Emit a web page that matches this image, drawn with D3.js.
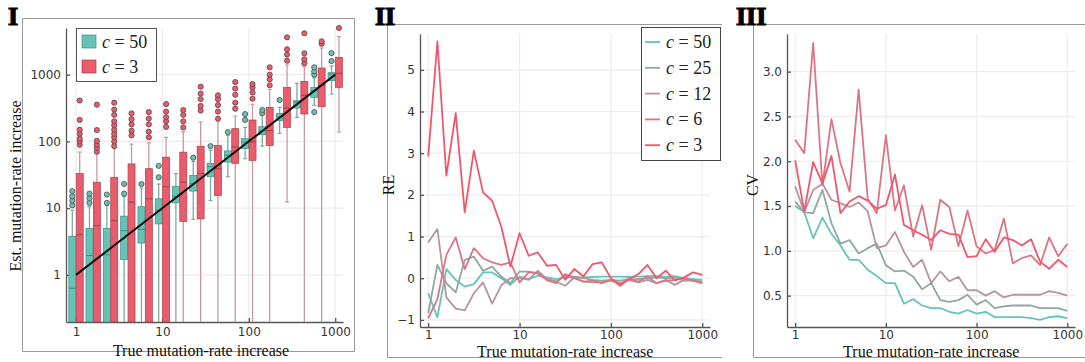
<!DOCTYPE html>
<html>
<head>
<meta charset="utf-8">
<script src="https://cdn.jsdelivr.net/npm/d3@7"></script>
<style>
    body { margin: 0; background: #fff; }
    .tick text { font-family: "DejaVu Sans", sans-serif; font-size: 12px; fill: #333; }
    .lbl { font-family: "Liberation Serif", serif; font-size: 16px; fill: #111; }
    .leg { font-family: "Liberation Serif", serif; font-size: 18px; fill: #222; }
    .num { font-family: "Liberation Serif", serif; font-size: 26px; font-weight: bold; fill: #000; stroke: #000; stroke-width: 1.2px; }
</style>
</head>
<body>
<svg id="fig" width="1085" height="362"></svg>
<script>
// shared tick labels
const logTicks = [1, 10, 100, 1000];
const reTicks = [-1, 0, 1, 2, 3, 4, 5];
const cvTicks = [0.5, 1.0, 1.5, 2.0, 2.5, 3.0];

// Panel I: box groups (true rate), [lo, q1, median, q3, hi]; 0 = below the axis
const boxRates = [1, 1.58, 2.51, 3.98, 6.31, 10, 15.8, 25.1, 39.8, 63.1, 100, 158, 251, 398, 631, 1000];
const tealBoxes = [
    [0, 0, 0.63, 3.8, 9.3], [0, 0, 1.95, 5.0, 10.5], [0, 0, 2.0, 5.0, 11], [0, 1.7, 4.6, 7.6, 15],
    [0, 3.0, 4.8, 10.5, 20], [0, 5.8, 9.3, 13.8, 23], [0, 12, 15, 21, 33], [6.8, 18, 23.5, 31, 50],
    [13, 29.5, 42, 47, 74], [29.5, 49, 62, 72, 123], [55, 78, 98, 110, 162], [85, 126, 145, 166, 245],
    [132, 204, 234, 263, 324], [229, 316, 389, 407, 740], [347, 457, 575, 646, 900], [513, 813, 1023, 1070, 1350]
];
const tealOutliers = [
    [11, 13, 15, 18], [12, 14, 16.5], [12, 16], [16.5, 23], [23], [29, 43], [], [57],
    [85], [138], [210, 257], [265, 295], [417], [], [275, 1000, 1120, 1290], [1600, 2100]
];
const redBoxes = [
    [0, 0, 4, 33, 69], [0, 0, 5.5, 24.5, 66], [0, 0, 6.5, 29, 80], [0, 0, 12.3, 46, 91],
    [0, 0, 13.8, 39, 95], [0, 0, 21, 58, 115], [0, 6.3, 24.5, 69, 140], [0, 6.9, 33, 85, 195],
    [0, 15.5, 39, 87, 204], [0, 47, 83, 155, 240], [0, 52, 98, 209, 360], [0, 87, 145, 324, 600],
    [12.3, 162, 316, 646, 1400], [0, 257, 490, 794, 1300], [0, 331, 692, 1259, 2500], [138, 646, 1047, 1820, 3720]
];
const redOutliers = [
    [89, 100, 110, 130, 150, 210, 410], [70, 80, 90, 102, 148, 355], [85, 100, 115, 130, 150, 175, 200, 250, 300, 380],
    [123, 145, 180, 215, 263], [115, 140, 180, 220, 275], [165, 200, 230, 280, 363], [162, 200, 250, 295],
    [290, 340, 430, 520, 660], [219, 280, 350, 430, 490], [309, 380, 500, 620, 776], [437, 540, 640, 724],
    [692, 850, 1000, 1290], [1620, 2000, 2400, 3630], [1480, 1700, 2090, 4170], [2900, 3160], [5000]
];

// Panels II and III: true rate grid and per-c series
const trueRates = [1, 1.26, 1.58, 2, 2.51, 3.16, 3.98, 5.01, 6.31, 7.94, 10, 12.6, 15.8, 20, 25.1, 31.6,
    39.8, 50.1, 63.1, 79.4, 100, 126, 158, 200, 251, 316, 398, 501, 631, 794, 1000];
const cLabels = ['50', '25', '12', '6', '3'];
const re50 = [-0.36, -0.94, 0.22, -0.04, -0.2, -0.14, 0.14, 0.14, 0.0, -0.16, 0.04, -0.02, 0.06, 0.02, -0.02, 0.02,
    0.02, 0.02, 0.03, 0.04, 0.04, 0.04, 0.03, 0.04, 0.05, 0.05, 0.04, 0.05, 0.0, -0.02, -0.04];
const re25 = [-0.84, 0.32, -0.12, -0.34, 0.44, 0.52, 0.18, 0.28, 0.04, -0.12, 0.16, 0.16, 0.12, 0.0, -0.08, 0.06,
    0.04, 0.0, -0.04, -0.06, -0.04, -0.06, -0.02, -0.02, 0.0, 0.02, 0.0, 0.02, -0.06, -0.04, -0.08];
const re12 = [0.86, 1.18, -0.46, -0.73, -0.77, -0.36, -0.1, -0.61, -0.17, 0.0, 0.0, -0.04, 0.18, -0.02, -0.08, -0.18,
    0.02, -0.08, -0.1, -0.1, -0.06, -0.12, -0.04, -0.1, -0.04, -0.12, -0.04, -0.16, -0.04, -0.06, -0.12];
const re6 = [-0.96, -0.5, 0.56, 0.98, 0.22, 0.72, 0.48, 0.38, 0.32, 0.38, -0.1, 0.14, 0.12, -0.05, -0.12, 0.1,
    0.0, -0.08, -0.06, -0.12, -0.04, -0.14, -0.02, -0.08, 0.04, -0.12, -0.06, -0.04, 0.0, -0.06, -0.12];
const re3 = [2.92, 5.68, 2.46, 3.96, 1.58, 3.06, 2.06, 1.86, 1.24, 0.28, 1.08, 0.54, 0.62, 0.3, 0.32, -0.04,
    0.22, 0.04, 0.34, 0.38, 0.0, -0.18, -0.02, 0.1, 0.32, 0.0, 0.18, -0.05, 0.02, 0.14, 0.08];
const cv50 = [1.5, 1.43, 1.14, 1.37, 1.19, 1.06, 0.9, 0.9, 0.79, 0.72, 0.64, 0.64, 0.41, 0.46, 0.39, 0.36,
    0.36, 0.32, 0.3, 0.34, 0.3, 0.32, 0.26, 0.26, 0.26, 0.26, 0.25, 0.23, 0.26, 0.27, 0.25];
const cv25 = [1.55, 1.43, 1.42, 1.68, 1.31, 1.08, 1.12, 0.97, 1.03, 1.08, 0.84, 0.77, 0.78, 0.71, 0.57, 0.64,
    0.45, 0.43, 0.45, 0.51, 0.4, 0.45, 0.36, 0.38, 0.39, 0.39, 0.39, 0.36, 0.36, 0.36, 0.33];
const cv12 = [1.72, 1.43, 1.68, 1.75, 1.57, 1.53, 1.49, 1.54, 1.44, 1.03, 1.06, 1.21, 0.99, 0.82, 0.9, 0.64,
    0.77, 0.66, 0.71, 0.56, 0.56, 0.5, 0.55, 0.48, 0.51, 0.51, 0.51, 0.51, 0.55, 0.53, 0.5];
const cv6 = [2.24, 2.09, 3.32, 1.73, 2.47, 1.98, 1.66, 2.8, 1.58, 1.42, 2.29, 1.45, 1.73, 1.16, 1.51, 1.01,
    1.57, 1.49, 1.05, 1.45, 1.05, 0.97, 1.01, 1.36, 0.86, 0.92, 0.95, 0.84, 1.15, 0.94, 1.08];
const cv3 = [2.01, 1.44, 1.99, 1.75, 2.06, 1.42, 1.55, 1.61, 1.56, 1.47, 1.51, 1.85, 1.29, 1.23, 1.18, 1.12,
    1.23, 1.19, 1.18, 0.93, 0.94, 1.13, 0.99, 1.15, 1.12, 1.06, 1.13, 0.88, 0.8, 0.9, 0.82];

const cColors = ['#66c4b8', '#8fa8a5', '#b8949c', '#dc7484', '#f0566c'];

const svg = d3.select('#fig');

// frames around the panels
function frame(x0, y0, x1, y1, right) {
    const p = d3.path();
    p.moveTo(x1, y0); p.lineTo(x0, y0); p.lineTo(x0, y1); p.lineTo(x1, y1);
    if (right) p.lineTo(x1, y0);
    svg.append('path').attr('d', p.toString()).attr('fill', 'none').attr('stroke', '#999').attr('stroke-width', 1);
}
frame(22.5, 18.5, 354.5, 351.5, true);
frame(387.5, 24.5, 722, 357.5, false);
frame(753.5, 24.5, 1085, 357.5, false);

// grid + axes for one panel
function axes(x, y, yTicks, yFmt, xPad) {
    const [xa, xb] = x.range();
    const [yb, ya] = y.range();
    const g = svg.append('g');
    g.selectAll('.gx').data(logTicks).enter().append('line')
        .attr('x1', d => x(d)).attr('x2', d => x(d)).attr('y1', ya).attr('y2', yb)
        .attr('stroke', '#ececec').attr('stroke-width', 1.2);
    g.selectAll('.gy').data(yTicks).enter().append('line')
        .attr('x1', xa).attr('x2', xb).attr('y1', d => y(d)).attr('y2', d => y(d))
        .attr('stroke', '#ececec').attr('stroke-width', 1.2);
    g.append('g').attr('transform', `translate(0,${yb})`)
        .call(d3.axisBottom(x).tickValues(logTicks).tickFormat(d3.format('d')).tickSize(-4).tickSizeOuter(0).tickPadding(xPad));
    g.append('g').attr('transform', `translate(${xa},0)`)
        .call(d3.axisLeft(y).tickValues(yTicks).tickFormat(yFmt).tickSize(-4).tickSizeOuter(0).tickPadding(5));
    g.selectAll('.domain, .tick line').attr('stroke', '#555').attr('stroke-width', 1.3);
    return g;
}

function legendLabel(sel, c) {
    sel.append('tspan').attr('font-style', 'italic').text('c');
    sel.append('tspan').text(' = ' + c);
}

// Panel I: boxplots
(function () {
    const x = d3.scaleLog().domain([0.766, 1230]).range([66, 343]);
    const y = d3.scaleLog().domain([0.197, 5000]).range([322, 28]).clamp(true);
    axes(x, y, logTicks, d3.format('d'), 5);

    const series = [
        { boxes: tealBoxes, outs: tealOutliers, off: -3.7, fill: '#66c2b5', edge: '#3f8f85', wh: '#7ea8a2' },
        { boxes: redBoxes, outs: redOutliers, off: 3.7, fill: '#ea5b6b', edge: '#a8404c', wh: '#c89aa0' }
    ];
    const bw = 7;
    series.forEach(s => {
        const g = svg.append('g');
        s.boxes.forEach((b, i) => {
            const cx = x(boxRates[i]) + s.off;
            const [lo, q1, med, q3, hi] = b;
            g.append('line').attr('x1', cx).attr('x2', cx).attr('y1', y(hi)).attr('y2', y(lo))
                .attr('stroke', s.wh).attr('stroke-width', 1.3);
            [hi, lo].filter(v => v > 0.2).forEach(v => {
                g.append('line').attr('x1', cx - 2).attr('x2', cx + 2).attr('y1', y(v)).attr('y2', y(v))
                    .attr('stroke', s.wh).attr('stroke-width', 1.2);
            });
            g.append('rect').attr('x', cx - bw / 2).attr('y', y(q3)).attr('width', bw)
                .attr('height', y(q1) - y(q3)).attr('fill', s.fill).attr('stroke', s.edge).attr('stroke-width', 0.7);
            g.append('line').attr('x1', cx - bw / 2).attr('x2', cx + bw / 2).attr('y1', y(med)).attr('y2', y(med))
                .attr('stroke', s.edge).attr('stroke-width', 1);
            g.selectAll(null).data(s.outs[i]).enter().append('circle')
                .attr('cx', cx).attr('cy', d => y(d)).attr('r', 2.6)
                .attr('fill', s.fill).attr('stroke', '#5a4548').attr('stroke-width', 0.8);
        });
    });

    // identity line
    svg.append('line').attr('x1', x(1)).attr('y1', y(1)).attr('x2', x(1000)).attr('y2', y(1000))
        .attr('stroke', '#111').attr('stroke-width', 2);

    // legend
    const lg = svg.append('g');
    lg.append('rect').attr('x', 76.5).attr('y', 28.5).attr('width', 80).attr('height', 53)
        .attr('fill', '#fff').attr('stroke', '#555');
    [['50', series[0]], ['3', series[1]]].forEach(([c, s], i) => {
        lg.append('rect').attr('x', 82).attr('y', 35 + i * 25).attr('width', 14).attr('height', 13)
            .attr('fill', s.fill).attr('stroke', s.edge).attr('stroke-width', 0.7);
        lg.append('text').attr('class', 'leg').attr('x', 102).attr('y', 47.5 + i * 25).call(legendLabel, c);
    });

    svg.append('text').attr('class', 'lbl').attr('text-anchor', 'middle')
        .attr('transform', 'translate(15,186) rotate(-90)').attr('dy', '0.35em').text('Est. mutation-rate increase');
    svg.append('text').attr('class', 'lbl').attr('text-anchor', 'middle').attr('x', 201).attr('y', 355.5)
        .text('True mutation-rate increase');
    svg.append('text').attr('class', 'num').attr('x', 8).attr('y', 25).text('I');
})();

// line panels II and III
function linePanel(x0, x1, yDomain, yTicks, yFmt, series, yTitle, titleX, numX, numText, legend) {
    const x = d3.scaleLog().domain([0.813, 1216]).range([x0, x1]);
    const y = d3.scaleLinear().domain(yDomain).range([327, 34]);
    axes(x, y, yTicks, yFmt, 3);

    const line = d3.line().x((d, i) => x(trueRates[i])).y(d => y(d));
    series.forEach((s, i) => {
        svg.append('path').datum(s).attr('d', line).attr('fill', 'none')
            .attr('stroke', cColors[i]).attr('stroke-width', 1.8).attr('stroke-linejoin', 'round');
    });

    if (legend) {
        const lg = svg.append('g');
        lg.append('rect').attr('x', 641.5).attr('y', 27.5).attr('width', 79).attr('height', 133)
            .attr('fill', '#fff').attr('stroke', '#444');
        cLabels.forEach((c, i) => {
            const cy = 42 + i * 25.8;
            lg.append('line').attr('x1', 645).attr('x2', 660).attr('y1', cy).attr('y2', cy)
                .attr('stroke', cColors[i]).attr('stroke-width', 1.8);
            lg.append('text').attr('class', 'leg').attr('x', 666).attr('y', cy + 6).call(legendLabel, c);
        });
    }

    svg.append('text').attr('class', 'lbl').attr('text-anchor', 'middle')
        .attr('transform', `translate(${titleX},185) rotate(-90)`).attr('dy', '0.35em').text(yTitle);
    svg.append('text').attr('class', 'lbl').attr('text-anchor', 'middle').attr('x', (x(1) + x(1000)) / 2)
        .attr('y', 356.5).text('True mutation-rate increase');
    svg.append('text').attr('class', 'num').attr('x', numX).attr('y', 25).text(numText);
}

linePanel(420, 710, [-1.17, 5.86], reTicks, d3.format('d'), [re50, re25, re12, re6, re3], 'RE', 388, 375, 'II', true);
linePanel(787, 1075, [0.15, 3.42], cvTicks, d3.format('.1f'), [cv50, cv25, cv12, cv6, cv3], 'CV', 752, 736, 'III', false);
</script>
</body>
</html>
